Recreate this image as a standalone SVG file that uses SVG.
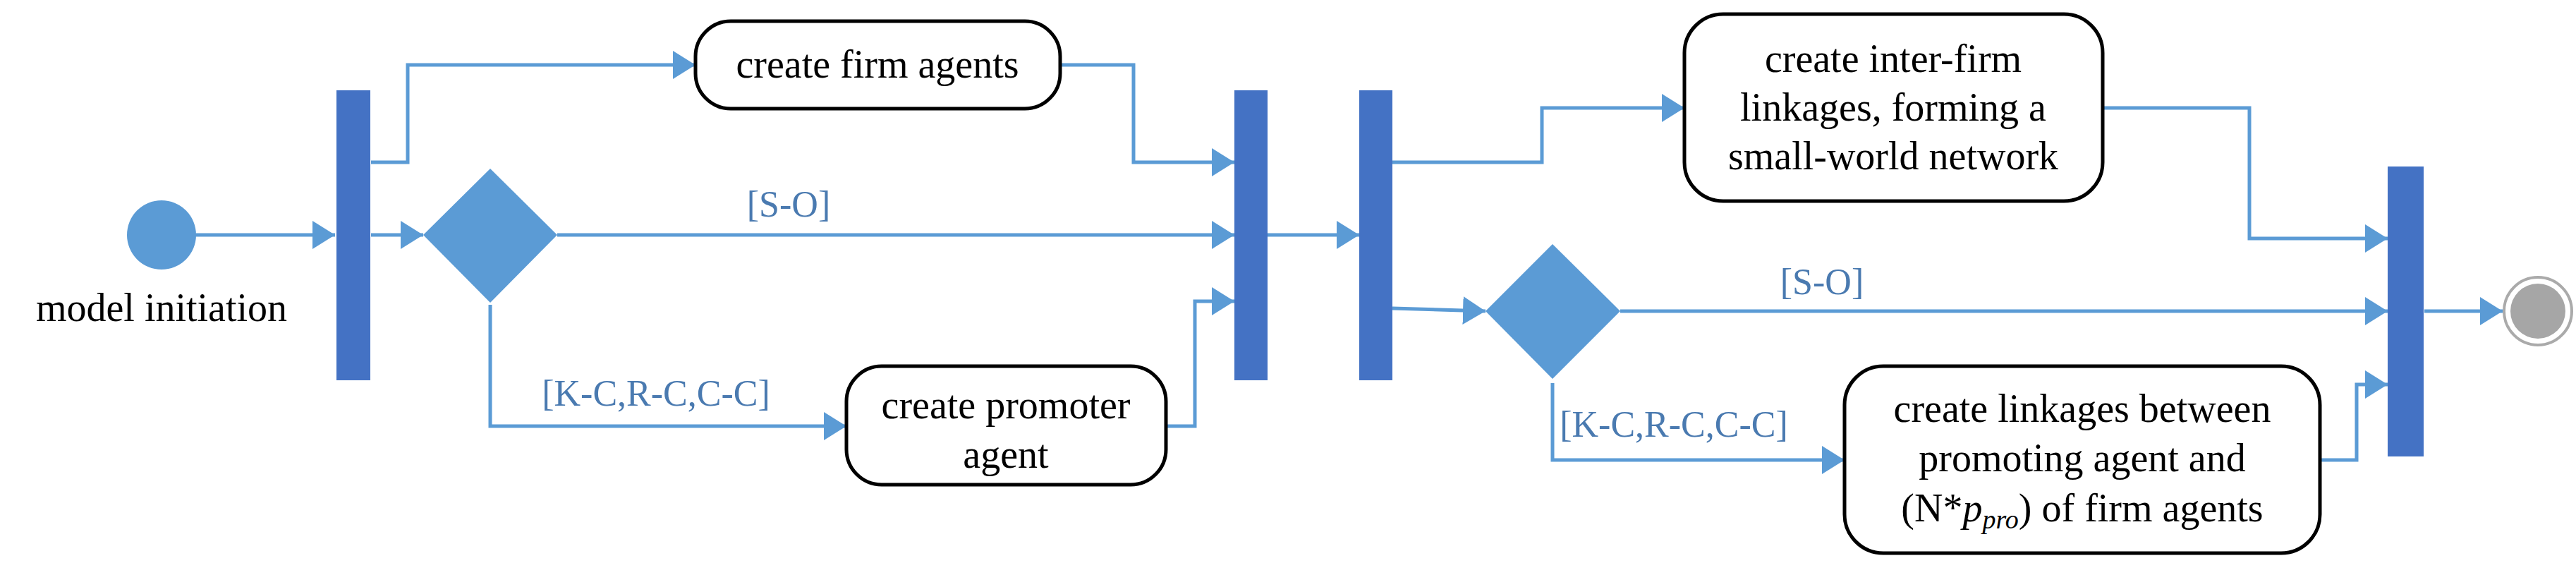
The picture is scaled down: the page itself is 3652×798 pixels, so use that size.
<svg xmlns="http://www.w3.org/2000/svg" width="3652" height="798" viewBox="0 0 3652 798">
<style>
.c{fill:none;stroke:#5b9bd5;stroke-width:5}
.bar{fill:#4472c4}
.dia{fill:#5b9bd5}
.box{fill:#fff;stroke:#000;stroke-width:5}
.t{font-family:"Liberation Serif",serif;font-size:56px;fill:#000;text-anchor:middle}
.g{font-family:"Liberation Serif",serif;font-size:52px;fill:#4a7ab0;text-anchor:middle}
</style>
<defs>
<marker id="a" markerUnits="userSpaceOnUse" markerWidth="34" markerHeight="40" refX="32" refY="20" orient="auto">
<path d="M0,0 L32,20 L0,40 Z" fill="#5b9bd5"/>
</marker>
</defs>
<g id="connectors">
<path class="c" d="M277,333 H475" marker-end="url(#a)"/>
<path class="c" d="M526,333 H600" marker-end="url(#a)"/>
<path class="c" d="M526,230 H578 V92 H986" marker-end="url(#a)"/>
<path class="c" d="M1503,92 H1607 V230 H1750" marker-end="url(#a)"/>
<path class="c" d="M790,333 H1750" marker-end="url(#a)"/>
<path class="c" d="M695,432 V604 H1200" marker-end="url(#a)"/>
<path class="c" d="M1653,604 H1694 V427 H1750" marker-end="url(#a)"/>
<path class="c" d="M1797,333 H1927" marker-end="url(#a)"/>
<path class="c" d="M1974,230 H2186 V153 H2388" marker-end="url(#a)"/>
<path class="c" d="M2981,153 H3189 V338 H3385" marker-end="url(#a)"/>
<path class="c" d="M1974,437 L2106,441" marker-end="url(#a)"/>
<path class="c" d="M2297,441 H3385" marker-end="url(#a)"/>
<path class="c" d="M2201,543 V652 H2615" marker-end="url(#a)"/>
<path class="c" d="M3289,652 H3341 V545 H3385" marker-end="url(#a)"/>
<path class="c" d="M3437,441 H3548" marker-end="url(#a)"/>
<text class="g" x="1118" y="307">[S-O]</text>
<text class="g" x="930" y="575">[K-C,R-C,C-C]</text>
<text class="g" x="2583" y="417">[S-O]</text>
<text class="g" x="2373" y="619">[K-C,R-C,C-C]</text>
</g>
<g id="start"><circle cx="229" cy="333" r="49" fill="#5b9bd5"/><text class="t" x="229" y="455">model initiation</text></g>
<g id="fork1"><rect class="bar" x="477" y="128" width="48" height="411"/></g>
<g id="decision1"><path class="dia" d="M695,239 L790,333 L695,429 L600,333 Z"/></g>
<g id="firm"><rect class="box" x="986" y="30" width="517" height="124" rx="50"/><text class="t" x="1244" y="110">create firm agents</text></g>
<g id="promoter"><rect class="box" x="1200" y="519" width="453" height="168" rx="50"/><text class="t" x="1426" y="593">create promoter</text><text class="t" x="1426" y="663">agent</text></g>
<g id="join1"><rect class="bar" x="1750" y="128" width="47" height="411"/></g>
<g id="fork2"><rect class="bar" x="1927" y="128" width="47" height="411"/></g>
<g id="decision2"><path class="dia" d="M2201,346 L2297,441 L2201,537 L2106,441 Z"/></g>
<g id="interfirm"><rect class="box" x="2388" y="20" width="593" height="265" rx="55"/><text class="t" x="2684" y="102">create inter-firm</text><text class="t" x="2684" y="171">linkages, forming a</text><text class="t" x="2684" y="240">small-world network</text></g>
<g id="linkages"><rect class="box" x="2615" y="519" width="674" height="265" rx="55"/><text class="t" x="2952" y="598">create linkages between</text><text class="t" x="2952" y="668">promoting agent and</text><text class="t" x="2952" y="739">(N*<tspan font-style="italic">p</tspan><tspan font-style="italic" font-size="38" dy="10">pro</tspan><tspan dy="-10">) of firm agents</tspan></text></g>
<g id="join2"><rect class="bar" x="3385" y="236" width="51" height="411"/></g>
<g id="end"><circle cx="3598" cy="441" r="48" fill="#fff" stroke="#aaa" stroke-width="4"/><circle cx="3598" cy="441" r="39" fill="#a6a6a6"/></g>
</svg>
